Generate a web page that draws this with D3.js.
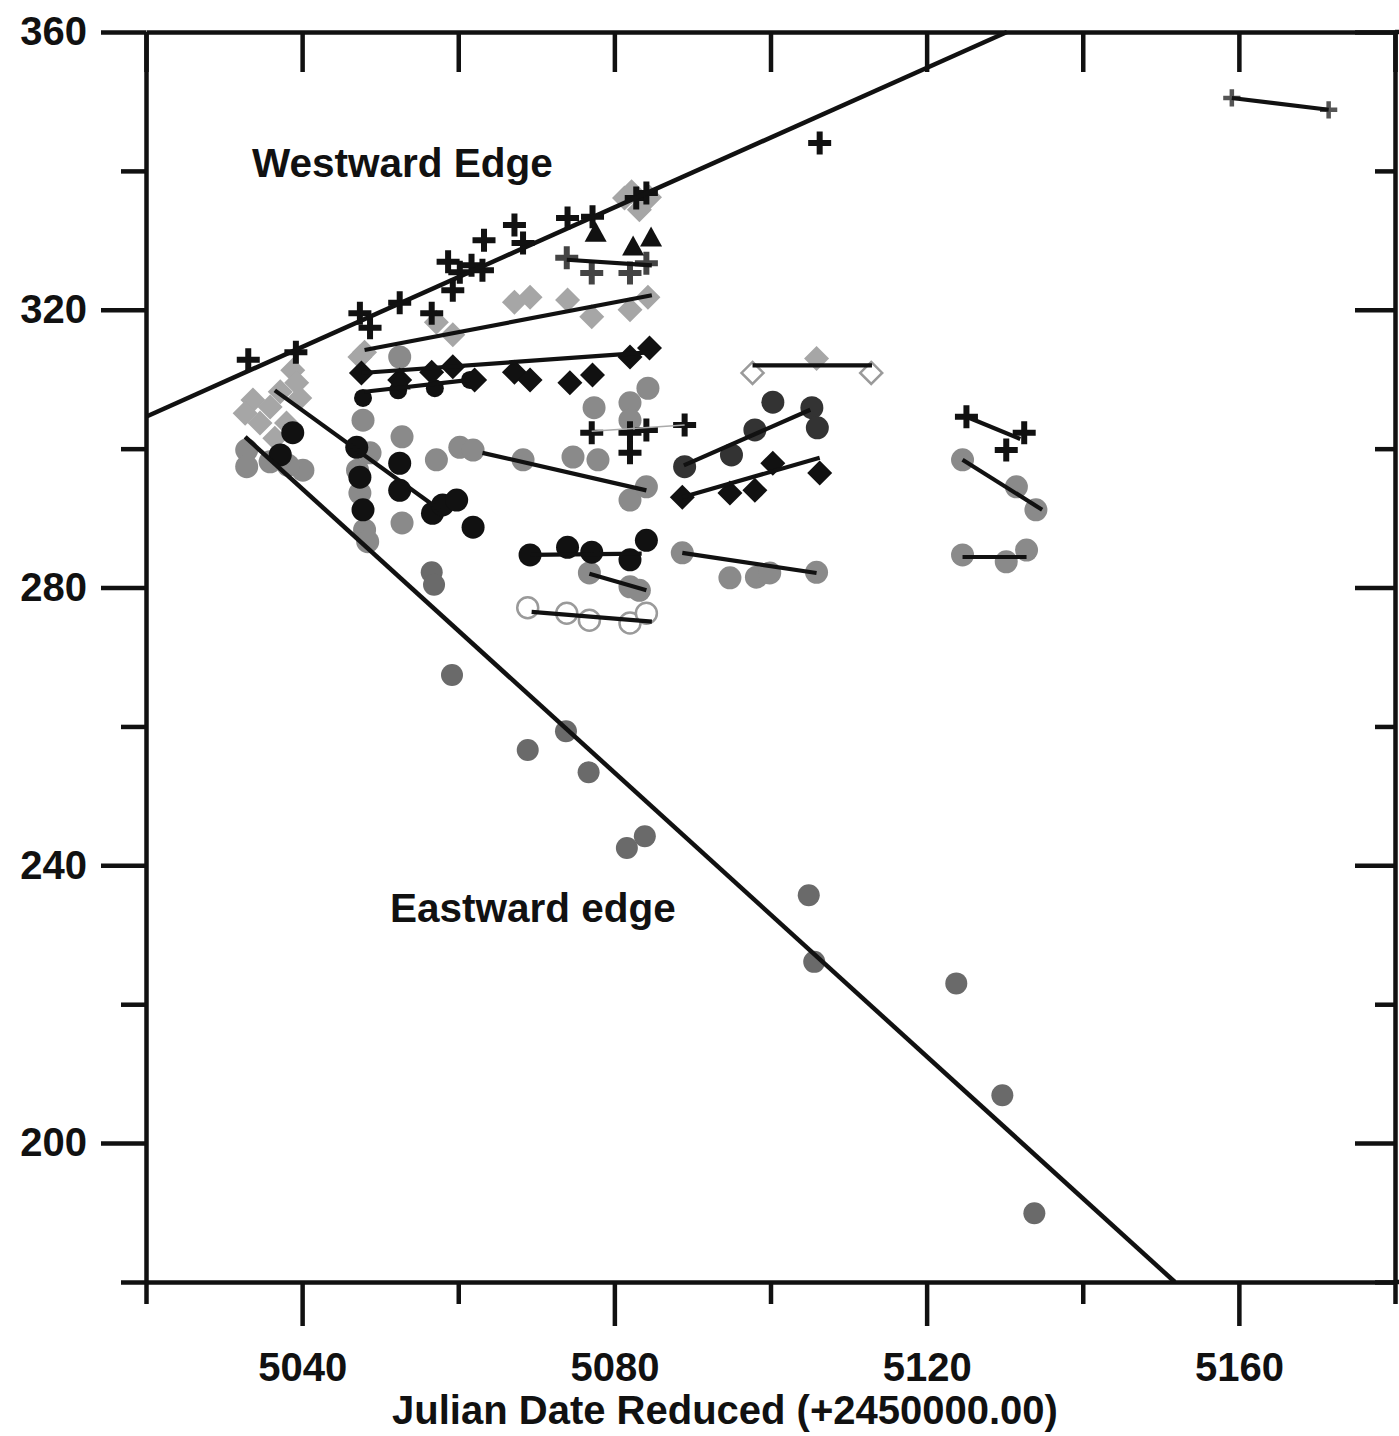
<!DOCTYPE html>
<html><head><meta charset="utf-8">
<script src="https://cdn.jsdelivr.net/npm/d3@7"></script>
<style>body{margin:0;background:#fff} svg{display:block}</style>
</head><body>
<svg id="c" width="1399" height="1436"></svg>
<script>
// ---------- axis ticks ----------
const xTicks = [5040, 5080, 5120, 5160];
const xMinor = [5020, 5060, 5100, 5140, 5180];
const yTicks = [200, 240, 280, 320, 360];
const yMinor = [180, 220, 260, 300, 340];
const xTitle = "Julian Date Reduced (+2450000.00)";
const labelWest = "Westward Edge";
const labelEast = "Eastward edge";

// ---------- edge lines ----------
const westEdge = [[5020, 304.6], [5130.3, 360]];
const eastEdge = [[5032.7, 301.7], [5151.8, 180]];

// ---------- data points ----------
const eastPts = [[5056.6,282.2],[5056.9,280.4],[5059.2,267.4],[5068.9,256.6],[5073.8,259.3],[5076.7,253.4],[5081.6,242.5],[5083.9,244.2],[5104.9,235.7],[5105.6,226.1],[5123.8,223.0],[5129.7,206.9],[5133.8,189.9]];
const westCross = [[5033.1,312.8],[5039.2,313.9],[5047.4,319.5],[5048.7,317.4],[5052.5,321.0],[5056.6,319.5],[5058.7,326.9],[5059.3,322.8],[5060.2,325.4],[5061.7,326.4],[5063.1,325.7],[5063.3,330.0],[5067.2,332.2],[5068.3,329.6],[5074.0,333.2],[5077.2,333.4],[5082.8,336.1],[5084.1,336.8],[5106.3,344.0]];
const westTopGray = [[5081.3,336.1],[5082.2,337.0],[5084.5,336.2],[5083.2,334.4]];
const triPts = [[5077.6,331.1],[5082.4,329.1],[5084.7,330.4],[5052.5,309.8]];
const leftDiam = [[5033.7,307.0],[5035.9,306.0],[5034.6,303.7],[5038.0,303.7],[5038.8,311.3],[5039.3,309.5],[5037.2,308.2],[5032.7,305.1],[5036.5,301.5],[5039.7,307.3],[5047.4,313.2]];
const leftGray = [[5032.9,299.8],[5032.9,297.4],[5035.9,298.1],[5040.1,296.9],[5038.2,297.6]];
const colGray = [[5047.8,304.1],[5048.7,299.4],[5047.1,296.9],[5047.4,293.6],[5048.0,288.3],[5048.4,286.6],[5052.8,301.7],[5052.8,289.3],[5052.5,313.2],[5077.4,305.9],[5082.0,306.6],[5084.3,308.7],[5082.0,304.1]];
const t1Pts = [[5073.9,327.5],[5077.1,325.3],[5082.0,325.3],[5084.1,326.7]];
const t1Fit = [[5073.9,327.2],[5084.8,326.4]];
const t2Pts = [[5048.0,313.9],[5057.2,318.2],[5059.3,316.4],[5067.2,321.1],[5069.2,321.8],[5074.0,321.4],[5077.1,319.0],[5082.0,320.0],[5084.3,321.8]];
const t2Fit = [[5048.0,314.2],[5084.8,322.1]];
const t3Pts = [[5047.6,310.9],[5052.5,309.9],[5056.6,311.0],[5059.3,311.8],[5062.1,309.9],[5067.2,311.0],[5069.2,309.9],[5074.3,309.5],[5077.2,310.6],[5082.0,313.2],[5084.5,314.5]];
const t3Fit = [[5047.6,310.9],[5084.8,313.9]];
const t3bPts = [[5047.8,307.3],[5052.3,308.4],[5057.0,308.7],[5061.5,309.9]];
const t3bFit = [[5048.0,308.2],[5061.5,309.9]];
const t4Pts = [[5057.2,298.4],[5060.2,300.2],[5061.9,299.8],[5068.3,298.4],[5074.7,298.8],[5077.9,298.4],[5082.0,292.6],[5084.1,294.5]];
const t4Fit = [[5063.1,299.4],[5084.1,294.0]];
const crossMid = [[5077.1,302.3],[5082.0,302.3],[5084.1,302.7],[5082.0,299.4],[5089.0,303.4]];
const crossMidFit = [[5077.1,302.5],[5089.0,303.4]];
const t5Pts = [[5047.0,300.2],[5047.4,295.9],[5052.5,297.9],[5052.5,294.0],[5056.7,290.7],[5058.0,291.9],[5059.8,292.6],[5061.9,288.7],[5047.8,291.2],[5038.8,302.3],[5037.2,299.1]];
const t5Fit = [[5036.5,308.4],[5057.6,291.2]];
const t6Pts = [[5069.2,284.7],[5074.0,285.8],[5077.1,285.1],[5082.0,284.0],[5084.1,286.8]];
const t6Fit = [[5069.2,284.7],[5083.5,284.9]];
const t7Pts = [[5076.8,282.1],[5082.0,280.1],[5083.2,279.6]];
const t7Fit = [[5076.8,282.0],[5084.1,279.6]];
const t8Pts = [[5068.9,277.1],[5073.9,276.3],[5076.8,275.3],[5082.0,274.9],[5084.1,276.3]];
const t8Fit = [[5069.4,276.5],[5084.8,275.1]];
const t9Pts = [[5097.7,310.9],[5112.9,310.9]];
const t9Mid = [[5105.9,313.0]];
const t9Fit = [[5097.7,312.0],[5113.0,312.0]];
const t10Pts = [[5089.0,297.4],[5095.0,299.1],[5098.0,302.7],[5100.3,306.7],[5105.3,305.9],[5106.0,303.0]];
const t10Fit = [[5088.9,297.6],[5105.1,305.6]];
const t11Pts = [[5088.7,293.0],[5094.8,293.6],[5098.0,294.0],[5100.3,297.9],[5106.3,296.5]];
const t11Fit = [[5088.7,293.0],[5106.3,298.7]];
const t12Pts = [[5088.7,285.0],[5094.8,281.4],[5098.2,281.5],[5099.9,282.1],[5105.9,282.2]];
const t12Fit = [[5088.7,285.0],[5105.9,282.1]];
const t13Pts = [[5125.1,304.6],[5130.2,299.8],[5132.5,302.3]];
const t13Fit = [[5125.1,304.6],[5132.0,301.4]];
const t14Pts = [[5124.6,298.4],[5131.5,294.5],[5134.0,291.2]];
const t14Fit = [[5124.6,298.4],[5134.8,291.2]];
const t15Pts = [[5124.6,284.7],[5130.2,283.7],[5132.8,285.4]];
const t15Fit = [[5124.6,284.4],[5132.8,284.4]];
const t16Pts = [[5159.1,350.5],[5171.5,348.8]];
const t16Fit = [[5159.1,350.5],[5171.5,348.8]];

// ---------- styles ----------
const GRAY = "#8a8a8a", LGRAY = "#a6a6a6", DGRAY = "#6a6a6a", BLACK = "#111";
const FONT = "'Liberation Sans', Arial, Helvetica, sans-serif";

const markerSeries = [
  {pts: leftDiam, m: "diamond", fill: LGRAY},
  {pts: westTopGray, m: "diamond", fill: LGRAY},
  {pts: t2Pts, m: "diamond", fill: LGRAY},
  {pts: leftGray, m: "circle", fill: GRAY},
  {pts: colGray, m: "circle", fill: GRAY},
  {pts: t4Pts, m: "circle", fill: GRAY},
  {pts: t7Pts, m: "circle", fill: GRAY},
  {pts: t12Pts, m: "circle", fill: GRAY},
  {pts: t14Pts, m: "circle", fill: GRAY},
  {pts: t15Pts, m: "circle", fill: GRAY},
  {pts: eastPts, m: "circle", fill: DGRAY, r: 11},
  {pts: t8Pts, m: "ocircle", fill: "#fff"},
  {pts: t9Pts, m: "odiamond", fill: "#fff"},
  {pts: t9Mid, m: "diamond", fill: LGRAY},
  {pts: t1Pts, m: "cross", fill: "#444"},
  {pts: t16Pts, m: "cross", fill: "#555", s: 0.75},
  {pts: t10Pts, m: "circle", fill: "#333"},
  {pts: t5Pts, m: "circle", fill: BLACK},
  {pts: t3bPts, m: "circle", fill: BLACK, r: 9},
  {pts: t6Pts, m: "circle", fill: BLACK},
  {pts: t3Pts, m: "diamond", fill: BLACK},
  {pts: t11Pts, m: "diamond", fill: BLACK},
  {pts: triPts, m: "triangle", fill: BLACK},
  {pts: westCross, m: "cross", fill: BLACK},
  {pts: crossMid, m: "cross", fill: BLACK},
  {pts: t13Pts, m: "cross", fill: BLACK}
];
const fitLines = [t1Fit, t2Fit, t3Fit, t3bFit, t4Fit, t5Fit, t6Fit, t7Fit, t8Fit, t9Fit, t10Fit, t11Fit, t12Fit, t13Fit, t14Fit, t15Fit, t16Fit];

// ---------- scales ----------
const svg = d3.select("#c");
const x = d3.scaleLinear().domain([5020, 5180]).range([146, 1395]);
const y = d3.scaleLinear().domain([180, 360]).range([1282, 32]);

// ---------- markers ----------
const shapes = {
  diamond: s => `M0,${-12.5*s}L${12.5*s},0L0,${12.5*s}L${-12.5*s},0Z`,
  odiamond: s => `M0,${-11*s}L${11*s},0L0,${11*s}L${-11*s},0Z`,
  triangle: s => `M0,${-11*s}L${11*s},${9*s}L${-11*s},${9*s}Z`,
  cross: s => { const a = 11.5*s, t = 3*s; return `M${-t},${-a}H${t}V${-t}H${a}V${t}H${t}V${a}H${-t}V${t}H${-a}V${-t}H${-t}Z`; }
};
const gm = svg.append("g");
markerSeries.forEach(ser => {
  const g = gm.append("g");
  if (ser.m === "circle" || ser.m === "ocircle") {
    g.selectAll("circle").data(ser.pts).join("circle")
      .attr("cx", d => x(d[0])).attr("cy", d => y(d[1]))
      .attr("r", ser.m === "ocircle" ? 10.5 : (ser.r || 11.5))
      .attr("fill", ser.fill)
      .attr("stroke", ser.m === "ocircle" ? "#9a9a9a" : "none")
      .attr("stroke-width", 2.5);
  } else {
    g.selectAll("path").data(ser.pts).join("path")
      .attr("transform", d => `translate(${x(d[0])},${y(d[1])})`)
      .attr("d", shapes[ser.m](ser.s || 1))
      .attr("fill", ser.fill)
      .attr("stroke", ser.m === "odiamond" ? "#9a9a9a" : "none")
      .attr("stroke-width", 2.5);
  }
});

// ---------- lines ----------
const line = d3.line().x(d => x(d[0])).y(d => y(d[1]));
svg.append("path").datum(crossMidFit).attr("d", line)
  .attr("stroke", "#aaa").attr("stroke-width", 1.5).attr("fill", "none");
svg.append("g").selectAll("path").data(fitLines).join("path")
  .attr("d", line).attr("stroke", BLACK).attr("stroke-width", 4.2).attr("fill", "none");
svg.append("g").selectAll("path").data([westEdge, eastEdge]).join("path")
  .attr("d", line).attr("stroke", BLACK).attr("stroke-width", 4.5).attr("fill", "none");

// ---------- axes ----------
function styleAxis(g) {
  g.selectAll("path.domain").attr("stroke", BLACK).attr("stroke-width", 4.5);
  g.selectAll(".tick line").attr("stroke", BLACK).attr("stroke-width", 4.5);
  g.selectAll("text").attr("font-family", FONT).attr("font-weight", "bold")
    .attr("font-size", 40).attr("fill", BLACK);
}
const fmt = d3.format("d");
svg.append("g").attr("transform", "translate(146,0)")
  .call(d3.axisLeft(y).tickValues(yTicks).tickSize(45).tickPadding(14).tickFormat(fmt).tickSizeOuter(0))
  .call(styleAxis);
svg.append("g").attr("transform", "translate(146,0)")
  .call(d3.axisLeft(y).tickValues(yMinor).tickSize(25).tickFormat("").tickSizeOuter(0))
  .call(g => g.select(".domain").remove()).call(styleAxis);
svg.append("g").attr("transform", "translate(1395,0)")
  .call(d3.axisRight(y).tickValues(yTicks).tickSize(-40).tickFormat("").tickSizeOuter(0))
  .call(styleAxis);
svg.append("g").attr("transform", "translate(1395,0)")
  .call(d3.axisRight(y).tickValues(yMinor).tickSize(-20).tickFormat("").tickSizeOuter(0))
  .call(g => g.select(".domain").remove()).call(styleAxis);
svg.append("g").attr("transform", "translate(0,1282)")
  .call(d3.axisBottom(x).tickValues(xTicks).tickSize(44).tickPadding(27).tickFormat(fmt).tickSizeOuter(0))
  .call(styleAxis);
svg.append("g").attr("transform", "translate(0,1282)")
  .call(d3.axisBottom(x).tickValues(xMinor).tickSize(22).tickFormat("").tickSizeOuter(0))
  .call(g => g.select(".domain").remove()).call(styleAxis);
svg.append("g").attr("transform", "translate(0,32)")
  .call(d3.axisTop(x).tickValues(xTicks.concat(xMinor)).tickSize(-40).tickFormat("").tickSizeOuter(0))
  .call(styleAxis);
// extend top/bottom frame lines to the right edge
svg.append("line").attr("x1", 1395).attr("x2", 1399).attr("y1", 32).attr("y2", 32).attr("stroke", BLACK).attr("stroke-width", 4.5);
svg.append("line").attr("x1", 1395).attr("x2", 1399).attr("y1", 1282).attr("y2", 1282).attr("stroke", BLACK).attr("stroke-width", 4.5);

// ---------- texts ----------
svg.append("text").attr("x", 725).attr("y", 1424).attr("text-anchor", "middle")
  .attr("font-family", FONT).attr("font-weight", "bold").attr("font-size", 40).attr("fill", BLACK).text(xTitle);
svg.append("text").attr("x", 252).attr("y", 177)
  .attr("font-family", FONT).attr("font-weight", "bold").attr("font-size", 40.5).attr("fill", BLACK).text(labelWest);
svg.append("text").attr("x", 390).attr("y", 922)
  .attr("font-family", FONT).attr("font-weight", "bold").attr("font-size", 40.5).attr("fill", BLACK).text(labelEast);
</script>
</body></html>
